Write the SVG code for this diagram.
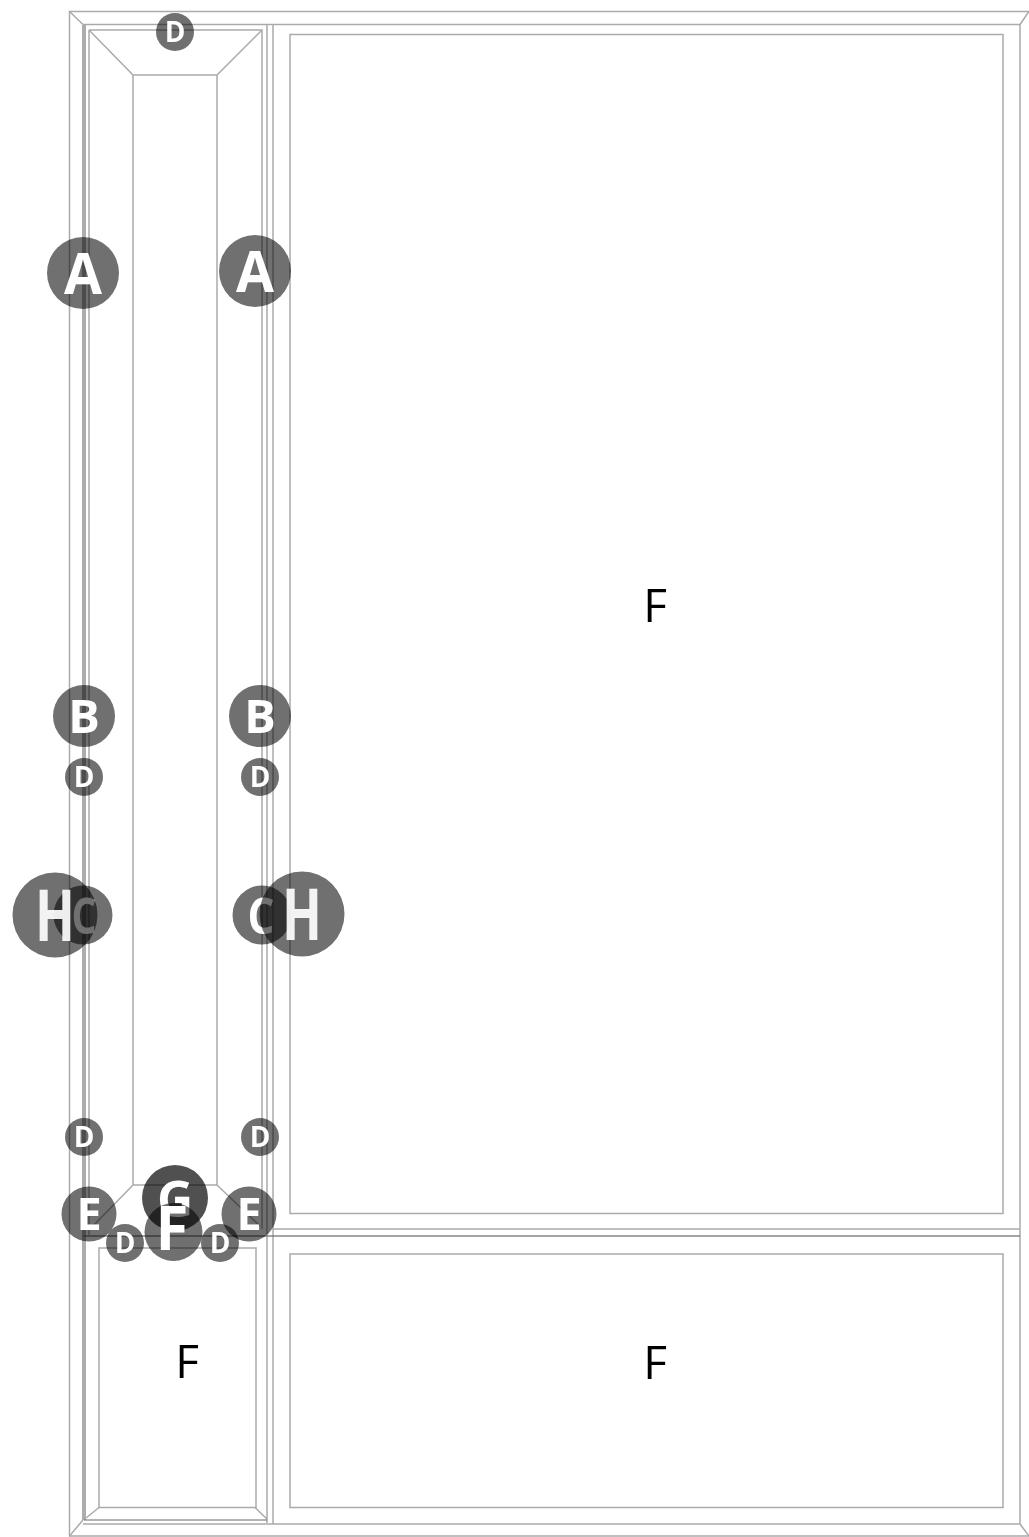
<svg xmlns="http://www.w3.org/2000/svg" width="1029" height="1537" viewBox="0 0 1029 1537">
<style>
.l{fill:none;stroke:#aaaaaa;stroke-width:1.5}
.t{stroke:#adadad;stroke-width:4;fill:none}
.d{stroke:#707070;stroke-width:1.6;fill:none}
.c{fill:#707070;mix-blend-mode:multiply}
.g{fill:#505050;mix-blend-mode:multiply}
text{font-family:"Open Sans","Liberation Sans",sans-serif;text-anchor:middle}
.b{fill:#fff;font-weight:700}
.p{fill:#000;font-size:46px}
</style>
<rect width="1029" height="1537" fill="#fff"/>
<g id="connectors">
<path class="l" d="M1029 11.500H69.500V1536H1029"/>
<path class="l" d="M69.500 11.500L83 24.500M1020 24.500L1029 11.500M69.500 1536L83 1520M1020 1524L1029 1536"/>
<path class="l" d="M83 24.500H1020V1524H83"/>
<path class="t" d="M84 25V1520"/>
<path class="l" d="M89 30H262V1229M89 30V1235"/>
<path class="l" d="M89 30L133 75H217L262 30"/>
<path class="l" d="M133 75V1185H217V75"/>
<path class="l" d="M133 1185L93 1226M217 1185L260 1226"/>
<path class="l" d="M267 25V1523M273 25V1524"/>
<path class="l" d="M273 1229H1020"/>
<path class="d" d="M83 1236H1020" stroke-opacity=".85"/>
<rect class="l" x="290" y="34.500" width="713" height="1179"/>
<rect class="l" x="290" y="1254" width="713" height="253.500"/>
<path class="l" d="M99 1248H256V1507.500H99Z"/>
<path class="l" d="M99 1507.500L86 1518M255 1507.500L267 1519"/>
<path class="d" d="M84 1520H267" stroke-opacity=".7"/>
</g>
<g id="node-a-left"><circle class="c" cx="83" cy="273" r="36"/><text class="b" x="83" y="294" font-size="58" textLength="38" lengthAdjust="spacingAndGlyphs">A</text></g>
<g id="node-a-right"><circle class="c" cx="255" cy="271" r="36"/><text class="b" x="255" y="292" font-size="58" textLength="38" lengthAdjust="spacingAndGlyphs">A</text></g>
<g id="node-b-left"><circle class="c" cx="84" cy="716" r="31"/><text class="b" x="84" y="733" font-size="47">B</text></g>
<g id="node-b-right"><circle class="c" cx="260" cy="716" r="31"/><text class="b" x="260" y="733" font-size="47">B</text></g>
<g id="node-d-top"><circle class="c" cx="175" cy="32" r="19"/><text class="b" x="175" y="42" font-size="28">D</text></g>
<g id="node-d-left1"><circle class="c" cx="84" cy="777" r="19"/><text class="b" x="84" y="787" font-size="28">D</text></g>
<g id="node-d-right1"><circle class="c" cx="260" cy="777" r="19"/><text class="b" x="260" y="787" font-size="28">D</text></g>
<g id="node-d-left2"><circle class="c" cx="84" cy="1137" r="19"/><text class="b" x="84" y="1147" font-size="28">D</text></g>
<g id="node-d-right2"><circle class="c" cx="260" cy="1137" r="19"/><text class="b" x="260" y="1147" font-size="28">D</text></g>
<g id="node-c-left"><circle class="c" cx="83" cy="915" r="29.500"/><text class="b" x="84" y="934" font-size="50" textLength="25" lengthAdjust="spacingAndGlyphs">C</text></g>
<g id="node-c-right"><circle class="c" cx="262" cy="915" r="29.500"/><text class="b" x="261" y="934" font-size="50" textLength="27" lengthAdjust="spacingAndGlyphs">C</text></g>
<g id="node-h-left"><circle class="c" cx="55" cy="915" r="42.500"/><text class="b" x="55" y="941" font-size="72" opacity=".92" textLength="40" lengthAdjust="spacingAndGlyphs">H</text></g>
<g id="node-h-right"><circle class="c" cx="302" cy="914" r="42.500"/><text class="b" x="302" y="940" font-size="72" opacity=".92" textLength="40" lengthAdjust="spacingAndGlyphs">H</text></g>
<g id="node-g"><circle class="g" cx="175" cy="1198" r="33"/><text class="b" x="175" y="1217" font-size="50">G</text></g>
<g id="node-f-small"><circle class="c" cx="173.500" cy="1232" r="29"/><text class="b" x="172" y="1250" font-size="60" font-weight="600">F</text></g>
<g id="node-e-left"><circle class="c" cx="89" cy="1214" r="27.500"/><text class="b" x="89" y="1230" font-size="45">E</text></g>
<g id="node-e-right"><circle class="c" cx="249" cy="1214" r="27.500"/><text class="b" x="249" y="1230" font-size="45">E</text></g>
<g id="node-d-bottom1"><circle class="c" cx="125" cy="1243" r="19"/><text class="b" x="125" y="1253" font-size="28">D</text></g>
<g id="node-d-bottom2"><circle class="c" cx="220" cy="1243" r="19"/><text class="b" x="220" y="1253" font-size="28">D</text></g>
<g id="panel-labels"><text class="p" x="655" y="622">F</text><text class="p" x="655" y="1379">F</text><text class="p" x="187" y="1378">F</text></g>
</svg>
